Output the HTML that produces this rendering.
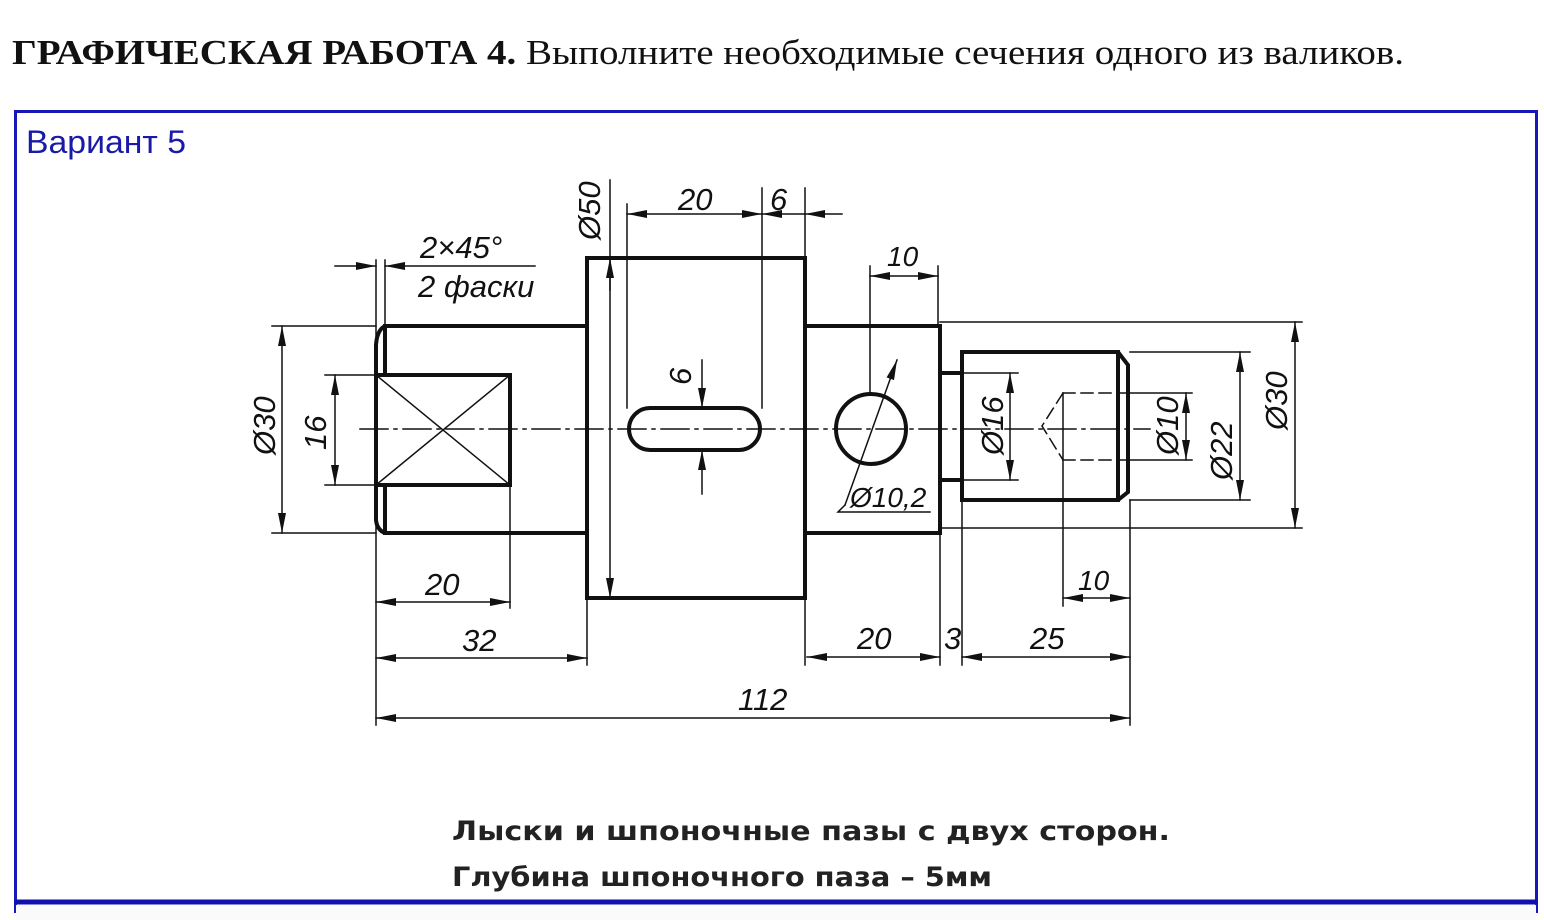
<!DOCTYPE html>
<html><head><meta charset="utf-8"><style>
html,body{margin:0;padding:0;background:#fff;width:1544px;height:920px;overflow:hidden}
svg{display:block}
.t{font-family:"Liberation Sans","DejaVu Sans",sans-serif;font-style:italic;font-size:31px;fill:#111}
</style></head><body>
<svg width="1544" height="920" viewBox="0 0 1544 920" xmlns="http://www.w3.org/2000/svg">
<defs>
<marker id="a" viewBox="0 0 20 8" refX="20" refY="4" markerWidth="20" markerHeight="8" markerUnits="userSpaceOnUse" orient="auto-start-reverse"><path d="M0,0 L20,4 L0,8 z" fill="#111"/></marker>
</defs>
<text x="12" y="64" font-family="Liberation Serif,serif" font-size="35" fill="#111" textLength="1392" lengthAdjust="spacingAndGlyphs"><tspan font-weight="bold">ГРАФИЧЕСКАЯ РАБОТА 4.</tspan> Выполните необходимые сечения одного из валиков.</text>
<rect x="15.5" y="111.5" width="1521" height="800" fill="none" stroke="#1818b8" stroke-width="3"/>
<line x1="14" y1="902" x2="1538" y2="902" stroke="#1010b0" stroke-width="5"/>
<rect x="16" y="905" width="1520" height="15" fill="#fafafa"/>
<text x="26" y="153" font-family="Liberation Sans,sans-serif" font-size="32" fill="#1a1aa8" textLength="160" lengthAdjust="spacingAndGlyphs">Вариант 5</text>

<g stroke="#111" fill="none" stroke-linecap="square">
<g stroke-width="4">
<path d="M587,326 H385 Q377,330 376,345 V520 Q377,530 385,533 H587"/>
<line x1="385" y1="326" x2="385" y2="375"/><line x1="385" y1="485" x2="385" y2="533"/>
<rect x="376" y="375" width="134" height="110"/>
<rect x="587" y="258" width="218" height="340"/>
<rect x="629" y="408" width="131" height="42" rx="21"/>
<path d="M805,326 H940 V533 H805"/>
<circle cx="871" cy="429" r="35"/>
<path d="M940,373 H962 M940,480 H962"/>
<path d="M962,352 H1118 L1128,365 V492 L1118,500 H962 Z"/>
<line x1="1118" y1="352" x2="1118" y2="500"/>
</g>
<g stroke-width="1.5">
<line x1="376" y1="375" x2="510" y2="485"/><line x1="510" y1="375" x2="376" y2="485"/>
<line x1="360" y1="429" x2="1150" y2="429" stroke-dasharray="28,6,3,6"/>
<path d="M1063,393 H1128 M1063,460 H1128 M1063,393 L1042,426 L1063,460" stroke-dasharray="12,6"/>
<line x1="1063" y1="393" x2="1063" y2="606"/>
<path d="M272,326 H376 M272,533 H376 M325,375 H376 M325,485 H376"/>
<path d="M940,322 H1302 M940,528 H1302 M1130,352 H1250 M1130,500 H1250 M1130,393 H1192 M1130,460 H1192 M962,373 H1018 M962,480 H1018"/>
<path d="M376,260 V725 M385,260 V326 M510,485 V608 M587,598 V665 M627,204 V408 M762,188 V408 M805,188 V258 M805,598 V665 M940,533 V665 M962,500 V665 M1130,500 V725 M870,266 V395 M938,266 V326"/>
<line x1="282" y1="326" x2="282" y2="533" marker-start="url(#a)" marker-end="url(#a)"/>
<line x1="335" y1="375" x2="335" y2="485" marker-start="url(#a)" marker-end="url(#a)"/>
<line x1="610" y1="180" x2="610" y2="598" marker-end="url(#a)"/>
<line x1="610" y1="290" x2="610" y2="258" marker-end="url(#a)"/>
<line x1="627" y1="214" x2="762" y2="214" marker-start="url(#a)" marker-end="url(#a)"/>
<line x1="762" y1="214" x2="805" y2="214" marker-start="url(#a)"/>
<line x1="842" y1="214" x2="805" y2="214" marker-end="url(#a)"/>
<line x1="335" y1="266" x2="376" y2="266" marker-end="url(#a)"/>
<line x1="535" y1="266" x2="385" y2="266" marker-end="url(#a)"/>
<line x1="702" y1="360" x2="702" y2="408" marker-end="url(#a)"/>
<line x1="702" y1="494" x2="702" y2="450" marker-end="url(#a)"/>
<line x1="870" y1="276" x2="938" y2="276" marker-start="url(#a)" marker-end="url(#a)"/>
<line x1="897" y1="360" x2="845" y2="505" marker-start="url(#a)"/>
<path d="M845,505 L838,512 H930"/>
<line x1="376" y1="602" x2="510" y2="602" marker-start="url(#a)" marker-end="url(#a)"/>
<line x1="376" y1="658" x2="587" y2="658" marker-start="url(#a)" marker-end="url(#a)"/>
<line x1="376" y1="718" x2="1130" y2="718" marker-start="url(#a)" marker-end="url(#a)"/>
<line x1="807" y1="657" x2="940" y2="657" marker-start="url(#a)" marker-end="url(#a)"/>
<line x1="962" y1="657" x2="1130" y2="657" marker-start="url(#a)" marker-end="url(#a)"/>
<line x1="1063" y1="598" x2="1130" y2="598" marker-start="url(#a)" marker-end="url(#a)"/>
<line x1="1010" y1="373" x2="1010" y2="480" marker-start="url(#a)" marker-end="url(#a)"/>
<line x1="1186" y1="393" x2="1186" y2="460" marker-start="url(#a)" marker-end="url(#a)"/>
<line x1="1240" y1="352" x2="1240" y2="500" marker-start="url(#a)" marker-end="url(#a)"/>
<line x1="1295" y1="322" x2="1295" y2="528" marker-start="url(#a)" marker-end="url(#a)"/>
</g>
</g>
<g class="t">
<text x="678" y="210">20</text><text x="770" y="210">6</text>
<text x="420" y="258">2×45°</text><text x="418" y="297">2 фаски</text>
<text x="887" y="266" font-size="28">10</text>
<text x="850" y="507" font-size="28">Ø10,2</text>
<text x="425" y="595">20</text><text x="462" y="651">32</text>
<text x="738" y="710">112</text>
<text x="857" y="649">20</text><text x="944" y="649">3</text><text x="1030" y="649">25</text>
<text x="1078" y="590" font-size="28">10</text>
<text transform="translate(600,240) rotate(-90)">Ø50</text>
<text transform="translate(275,455) rotate(-90)">Ø30</text>
<text transform="translate(326,450) rotate(-90)">16</text>
<text transform="translate(691,385) rotate(-90)">6</text>
<text transform="translate(1003,455) rotate(-90)">Ø16</text>
<text transform="translate(1178,455) rotate(-90)">Ø10</text>
<text transform="translate(1232,480) rotate(-90)">Ø22</text>
<text transform="translate(1287,430) rotate(-90)">Ø30</text>
</g>
<text x="452" y="840" font-family="DejaVu Sans Condensed,DejaVu Sans,sans-serif" font-weight="bold" font-size="27" fill="#222" textLength="718" lengthAdjust="spacingAndGlyphs">Лыски  и  шпоночные  пазы  с  двух  сторон.</text>
<text x="452" y="886" font-family="DejaVu Sans Condensed,DejaVu Sans,sans-serif" font-weight="bold" font-size="27" fill="#222" textLength="540" lengthAdjust="spacingAndGlyphs">Глубина  шпоночного  паза  – 5мм</text>
</svg>
</body></html>
